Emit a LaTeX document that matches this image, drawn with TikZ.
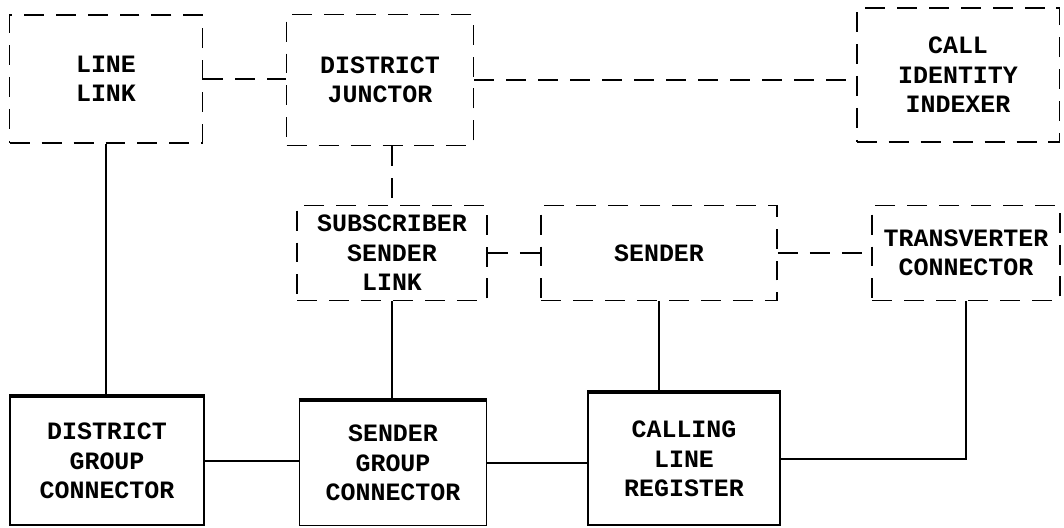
\documentclass[tikz,border=0pt]{standalone}
\usepackage{fontspec}
\newfontfamily\boxfont{Liberation Mono}
\usepackage{tikz}

\tikzset{
  dbox/.style={draw, line width=1.1pt, dash pattern=on 0.4cm off 0.24cm, align=center, inner sep=1pt,
    font=\boxfont\bfseries\fontsize{14.2}{16.8}\selectfont},
  sbox/.style={draw, line width=1pt, align=center, inner sep=1pt,
    font=\boxfont\bfseries\fontsize{14.2}{16.8}\selectfont},
  dline/.style={line width=1.1pt, dash pattern=on 0.4cm off 0.24cm},
  sline/.style={line width=1pt}
}

\begin{document}
\begin{tikzpicture}[x=0.02cm,y=-0.02cm]
\useasboundingbox (0,0) rectangle (1064,527);
%TOP ROW
\node[dbox, minimum width=3.86cm, minimum height=2.56cm] (ll) at (106,79) {LINE\\LINK};
\node[dbox, minimum width=3.74cm, minimum height=2.62cm] (dj) at (380,80) {DISTRICT\\JUNCTOR};
\node[dbox, minimum width=4.06cm, minimum height=2.68cm] (cii) at (958,75) {CALL\\IDENTITY\\INDEXER};
%MIDDLE ROW
\node[dbox, minimum width=3.8cm, minimum height=1.9cm] (ssl) at (392,253) {SUBSCRIBER\\SENDER\\LINK};
\node[dbox, minimum width=4.72cm, minimum height=1.9cm] (snd) at (659,253) {SENDER};
\node[dbox, minimum width=3.76cm, minimum height=1.9cm] (tc) at (966,253) {TRANSVERTER\\CONNECTOR};
%BOTTOM ROW
\node[sbox, minimum width=3.88cm, minimum height=2.56cm] (dgc) at (107,461) {DISTRICT\\GROUP\\CONNECTOR};
\node[sbox, minimum width=3.74cm, minimum height=2.5cm] (sgc) at (393,463) {SENDER\\GROUP\\CONNECTOR};
\node[sbox, minimum width=3.84cm, minimum height=2.64cm] (clr) at (684,459) {CALLING\\LINE\\REGISTER};
%heavy tops of the bottom boxes
\foreach \b in {dgc,sgc,clr}
  \draw[line width=2.2pt] (\b.north west) -- (\b.north east);
%LL to DJ
\draw[dline] (ll.east) -- (ll.east -| dj.west);
%DJ to CII
\draw[dline] (dj.east) -- (dj.east -| cii.west);
%DJ to SSL
\draw[dline] (ssl.north |- dj.south) -- (ssl.north);
%SSL to SENDER
\draw[dline] (ssl.east) -- (snd.west);
%SENDER to TC
\draw[dline] (snd.east) -- (tc.west);
%LL to DGC
\draw[sline] (ll.south) -- (ll.south |- dgc.north);
%SSL to SGC
\draw[sline] (ssl.south) -- (ssl.south |- sgc.north);
%SENDER to CLR
\draw[sline] (snd.south) -- (snd.south |- clr.north);
%TC to CLR
\draw[sline] (tc.south) -- (tc.south |- clr.east) -- (clr.east);
%DGC to SGC to CLR
\draw[sline] (dgc.east) -- (dgc.east -| sgc.west);
\draw[sline] (sgc.east) -- (sgc.east -| clr.west);
\end{tikzpicture}
\end{document}
